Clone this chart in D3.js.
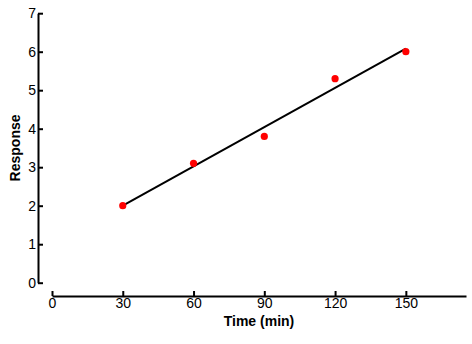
<!DOCTYPE html>
<html>
<head>
<meta charset="utf-8">
<script src="https://cdn.jsdelivr.net/npm/d3@7"></script>
<style>
  html, body { margin: 0; padding: 0; background: #fff; }
  svg { display: block; font-family: "Liberation Sans", Arial, sans-serif; }
</style>
</head>
<body>
<svg id="chart" width="472" height="344"></svg>
<script>
// Observed responses over time
const times = [30, 60, 90, 120, 150];
const responses = [2.0, 3.1, 3.8, 5.3, 6.0];

// Least-squares fit line, end points
const fitTimes = [30, 150];
const fitResponses = [2.0, 6.08];

// Tick labels
const xTicks = [0, 30, 60, 90, 120, 150];
const yTicks = [0, 1, 2, 3, 4, 5, 6, 7];

const svg = d3.select("#chart");

const x = d3.scaleLinear().domain([0, 175.5]).range([52, 466]);
const y = d3.scaleLinear().domain([0, 7]).range([282.7, 13.2]);

const yAxisX = 38;
const xAxisY = 296;

// Y axis: ticks point inward, labels on the left
const yAxis = svg.append("g")
  .attr("transform", `translate(${yAxisX},0)`)
  .call(d3.axisLeft(y).tickValues(yTicks).tickFormat(d3.format("d"))
    .tickSizeInner(-5).tickSizeOuter(0).tickPadding(2));

// X axis: ticks point upward, labels below
const xAxis = svg.append("g")
  .attr("transform", `translate(0,${xAxisY})`)
  .call(d3.axisBottom(x).tickValues(xTicks).tickFormat(d3.format("d"))
    .tickSizeInner(-5).tickSizeOuter(0).tickPadding(2));

[yAxis, xAxis].forEach(g => {
  g.select(".domain").attr("stroke", "#000").attr("stroke-width", 2);
  g.selectAll(".tick line").attr("stroke", "#000").attr("stroke-width", 2);
  g.selectAll(".tick text")
    .attr("fill", "#000")
    .style("font-size", "14px")
    .style("font-family", "'Liberation Sans', Arial, sans-serif");
});

// Axis titles
svg.append("text")
  .attr("x", (x.range()[0] + x.range()[1]) / 2)
  .attr("y", 325.5)
  .attr("text-anchor", "middle")
  .style("font-size", "14px")
  .style("font-weight", "bold")
  .text("Time (min)");

svg.append("text")
  .attr("transform", `translate(19.5,${(y.range()[0] + y.range()[1]) / 2}) rotate(-90)`)
  .attr("text-anchor", "middle")
  .style("font-size", "14px")
  .style("font-weight", "bold")
  .text("Response");

// Fit line
const line = d3.line().x(d => x(d[0])).y(d => y(d[1]));
svg.append("path")
  .datum(d3.zip(fitTimes, fitResponses))
  .attr("d", line)
  .attr("fill", "none")
  .attr("stroke", "#000")
  .attr("stroke-width", 2);

// Data points
svg.append("g")
  .selectAll("circle")
  .data(d3.zip(times, responses))
  .join("circle")
  .attr("cx", d => x(d[0]))
  .attr("cy", d => y(d[1]))
  .attr("r", 3.6)
  .attr("fill", "#ff0000");
</script>
</body>
</html>
